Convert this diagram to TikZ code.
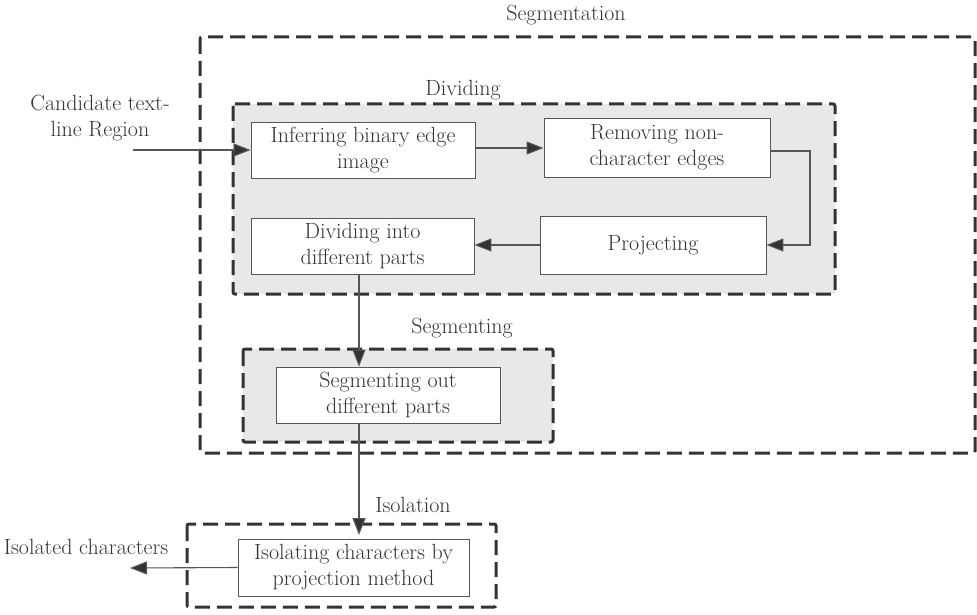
\documentclass[tikz,border=0pt]{standalone}
\usetikzlibrary{arrows.meta}
\definecolor{ink}{HTML}{333333}
\definecolor{edge}{HTML}{555555}
\definecolor{panel}{HTML}{E8E8EA}
\begin{document}
\begin{tikzpicture}[x=1pt,y=-1pt,
  every node/.style={font=\fontsize{22}{26}\selectfont, text=ink},
  proc/.style={draw=edge, line width=0.9pt, fill=white, align=center, inner sep=0pt},
  group/.style={draw=ink, line width=3pt, dash pattern=on 15pt off 7pt, rounded corners=2pt},
  flow/.style={draw=edge, line width=1.1pt, -{Triangle[length=17pt,width=13pt,fill=ink]}},
  lbl/.style={align=center, inner sep=0pt}]
\useasboundingbox (0,0) rectangle (977,615);

% outer and inner dashed groups
\draw[group] (200,37) rectangle (975,453);
\fill[panel] (233,104) rectangle (835,294);
\draw[group] (233,104) rectangle (835,294);
\fill[panel] (243,349) rectangle (553,442);
\draw[group] (243,349) rectangle (553,442);
\draw[group] (187,524) rectangle (496,607);

% group titles
\node[lbl] (tseg) at (566,15) {Segmentation};
\node[lbl] (tdiv) at (463,90) {Dividing};
\node[lbl] (tsgm) at (462,328) {Segmenting};
\node[lbl] (tiso) at (413,505) {Isolation};

% process boxes
\node[proc, minimum width=224pt, minimum height=56pt] (infer) at (363,150) {Inferring binary edge\\image};
\node[proc, minimum width=226pt, minimum height=59pt] (remove) at (657,147.5) {Removing non-\\character edges};
\node[proc, minimum width=226pt, minimum height=58pt] (proj) at (653,245) {Projecting};
\node[proc, minimum width=223pt, minimum height=56pt] (divide) at (362.5,246) {Dividing into\\different parts};
\node[proc, minimum width=224pt, minimum height=56pt] (segout) at (388,395) {Segmenting out\\different parts};
\node[proc, minimum width=231pt, minimum height=57pt] (isolate) at (353.5,567.5) {Isolating characters by\\projection method};

% free texts
\node[lbl] (cand) at (100,118) {Candidate text-\\line Region};
\node[lbl] (outtxt) at (86,547) {Isolated characters};

% connector ends
\coordinate (cin) at (133,150);
\coordinate (cout) at (130,568);
\coordinate (turn1) at (810,151);
\coordinate (turn2) at (810,245);
\coordinate (isotop) at (359,535);

% connectors
\draw[flow] (cin) -- (infer.west);
\draw[flow] (infer.east |- 0,148) -- (remove.west |- 0,148);
\draw[flow] (remove.east |- turn1) -- (turn1) -- (turn2) -- (proj.east |- turn2);
\draw[flow] (proj.west) -- (divide.east |- proj.west);
\draw[flow] (divide.south -| 359,0) -- (segout.north -| 359,0);
\draw[flow] (segout.south -| 359,0) -- (isotop);
\draw[flow] (isolate.west) -- (cout);
\end{tikzpicture}
\end{document}
